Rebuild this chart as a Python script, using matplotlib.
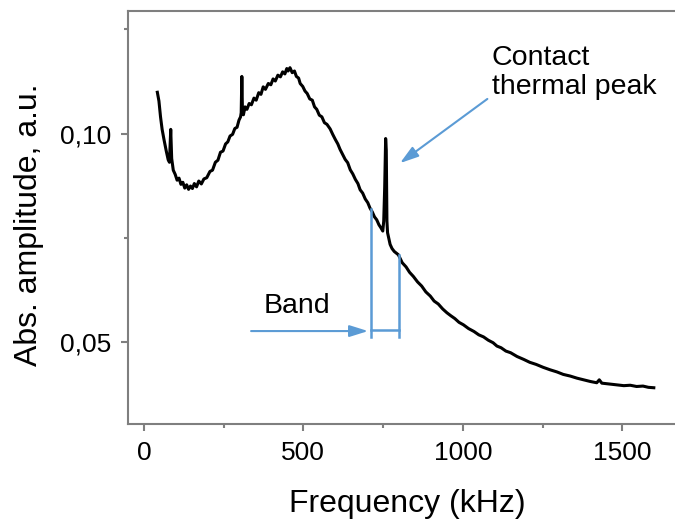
import matplotlib
matplotlib.use("Agg")
import matplotlib.pyplot as plt
from matplotlib.ticker import FixedLocator, FuncFormatter

plt.rcParams['font.family'] = ['Liberation Sans', 'DejaVu Sans']

# spectrum (kHz, a.u.)
freq = [42, 47, 52, 57, 63, 70, 76, 80, 84, 87,
        92, 98, 104, 110, 116, 122, 128, 134, 140, 146,
        152, 158, 165, 172, 180, 188, 197, 207, 215, 224,
        232, 240, 248, 256, 263, 270, 278, 285, 292, 298,
        303, 305, 307, 309, 312, 317, 323, 330, 337, 345,
        352, 360, 367, 374, 381, 390, 398, 405, 412, 420,
        428, 435, 442, 448, 452, 458, 465, 472, 478, 485,
        490, 498, 505, 512, 520, 528, 535, 542, 550, 558,
        566, 574, 584, 592, 600, 608, 615, 623, 631, 639,
        647, 655, 663, 671, 678, 686, 694, 702, 709, 716,
        723, 730, 737, 743, 749, 752, 755, 758, 760, 762,
        764, 768, 772, 778, 785, 798, 810, 822, 833, 845,
        858, 871, 884, 898, 910, 923, 937, 950, 962, 975,
        988, 1002, 1018, 1035, 1050, 1065, 1080, 1095, 1107, 1120,
        1135, 1150, 1170, 1191, 1210, 1230, 1252, 1274, 1295, 1315,
        1337, 1358, 1379, 1400, 1420, 1428, 1436, 1460, 1484, 1505,
        1525, 1545, 1565, 1582, 1599]
amp = [.1099, .1078, .1040, .1010, .0985, .0958, .0937, .0931, .1010, .0940,
       .0912, .0902, .0888, .0893, .0878, .0883, .0869, .0877, .0866, .0874,
       .0868, .0880, .0872, .0886, .0879, .0891, .0894, .0909, .0912, .0931,
       .0936, .0955, .0958, .0975, .0980, .0994, .0998, .1012, .1015, .1032,
       .1040, .1050, .1137, .1052, .1045, .1064, .1058, .1072, .1069, .1085,
       .1080, .1098, .1094, .1112, .1106, .1120, .1117, .1131, .1126, .1140,
       .1136, .1148, .1143, .1156, .1150, .1158, .1146, .1150, .1137, .1133,
       .1120, .1113, .1102, .1096, .1083, .1080, .1064, .1058, .1044, .1040,
       .1026, .1022, .1011, .0998, .0986, .0975, .0962, .0950, .0938, .0930,
       .0913, .0903, .0890, .0880, .0865, .0857, .0843, .0834, .0821, .0812,
       .0800, .0793, .0781, .0774, .0766, .0790, .0870, .0988, .0960, .0790,
       .0762, .0748, .0734, .0724, .0717, .0709, .0690, .0680, .0667, .0657,
       .0644, .0634, .0620, .0610, .0598, .0591, .0579, .0570, .0563, .0556,
       .0547, .0541, .0532, .0525, .0517, .0512, .0504, .0498, .0490, .0486,
       .0478, .0474, .0465, .0458, .0451, .0446, .0439, .0433, .0428, .0422,
       .0418, .0413, .0409, .0405, .0402, .0409, .0401, .0399, .0397, .0395,
       .0396, .0393, .0394, .0391, .0390]

x_major = [0, 500, 1000, 1500]
x_minor = [250, 750, 1250]
y_major = [0.05, 0.10]
y_minor = [0.075, 0.125]

# band edges (kHz) and where they meet the curve
band_f = [712, 799]
band_top = [0.0819, 0.0709]

blue = '#5b9bd5'
grey = '#7f7f7f'

fig = plt.figure(figsize=(6.75, 5.2), dpi=100)
ax = fig.add_axes([128 / 675, 96 / 520, 0.83, 413 / 520])

ax.plot(freq, amp, color='black', lw=2.2)

ax.set_xlim(-50, 1707)
ax.set_ylim(0.0303, 0.1294)

for s in ['left', 'bottom', 'top']:
    ax.spines[s].set_color(grey)
    ax.spines[s].set_linewidth(1.5)
ax.spines['right'].set_visible(False)

ax.xaxis.set_major_locator(FixedLocator(x_major))
ax.xaxis.set_minor_locator(FixedLocator(x_minor))
ax.yaxis.set_major_locator(FixedLocator(y_major))
ax.yaxis.set_minor_locator(FixedLocator(y_minor))
ax.yaxis.set_major_formatter(FuncFormatter(lambda v, p: f"{v:.2f}".replace('.', ',')))
ax.tick_params(which='major', direction='out', length=5, width=1.5, color=grey,
               labelsize=19, pad=7)
ax.tick_params(which='minor', direction='out', length=3, width=1.5, color=grey)
ax.tick_params(top=False, which='both')

fig.text(407 / 675, 1 - 512 / 520, 'Frequency (kHz)', fontsize=23,
         ha='center', va='baseline')
fig.text(37 / 675, 1 - 224.5 / 520, 'Abs. amplitude, a.u.', fontsize=23,
         rotation=90, rotation_mode='anchor', ha='center', va='baseline')

# annotations
ax.text(1091, 0.1096, 'Contact\nthermal peak', fontsize=20.5, va='baseline',
        linespacing=1.15)
ax.annotate('', xy=(803, 0.0929), xytext=(1077, 0.1083),
            arrowprops=dict(arrowstyle='-|>,head_length=0.8,head_width=0.25',
                            color=blue, lw=1.5, shrinkA=0, shrinkB=0,
                            mutation_scale=14))

ax.text(375, 0.0569, 'Band', fontsize=20.5, va='baseline')
ax.annotate('', xy=(703, 0.0526), xytext=(336, 0.0526),
            arrowprops=dict(arrowstyle='-|>,head_length=0.8,head_width=0.25',
                            color=blue, lw=1.5, shrinkA=0, shrinkB=0,
                            mutation_scale=14))
for f, top in zip(band_f, band_top):
    ax.plot([f, f], [0.0512, top], color=blue, lw=1.8)
ax.plot(band_f, [0.0529, 0.0529], color=blue, lw=1.8)

fig.savefig('out.png', dpi=100)
